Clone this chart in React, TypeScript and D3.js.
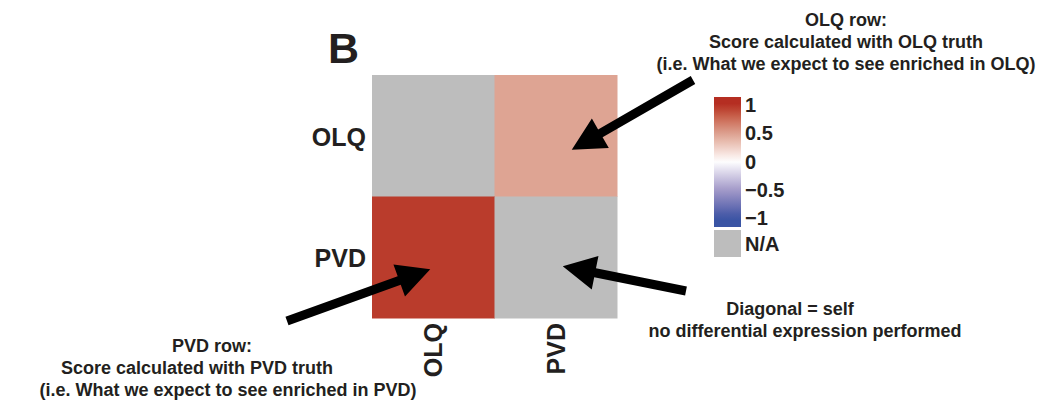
import React from 'react';
import * as d3 from 'd3';

// heatmap data (rows = truth used, cols = compared cell type); null = diagonal / N/A
const rowNames = ['OLQ', 'PVD'];
const colNames = ['OLQ', 'PVD'];
const scores: (number | null)[][] = [
  [null, 0.48],
  [0.95, null],
];

const legendTicks = [1, 0.5, 0, -0.5, -1];
const colorStops = [-1, -0.5, 0, 0.5, 1];
const colorValues = ['#3A54A4', '#A39AC9', '#FFFFFF', '#DCA08F', '#B52E22'];

const topNote = ['OLQ row:', 'Score calculated with OLQ truth', '(i.e. What we expect to see enriched in OLQ)'];
const diagNote = ['Diagonal = self', 'no differential expression performed'];
const pvdNote = ['PVD row:', 'Score calculated with PVD truth', '(i.e. What we expect to see enriched in PVD)'];

const TEXT = '#231F20';
const NA_GRAY = '#BDBDBD';
const FONT = 'Liberation Sans, Arial, Helvetica, sans-serif';

const arrowPath = (tail: [number, number], tip: [number, number]) => {
  const shaft = 4.5, headLen = 33, headHalf = 17;
  const dx = tip[0] - tail[0], dy = tip[1] - tail[1];
  const len = Math.hypot(dx, dy);
  const ux = dx / len, uy = dy / len;
  const nx = -uy, ny = ux;
  const bx = tip[0] - ux * headLen, by = tip[1] - uy * headLen;
  const pts = [
    [tail[0] + nx * shaft, tail[1] + ny * shaft],
    [bx + nx * shaft, by + ny * shaft],
    [bx + nx * headHalf, by + ny * headHalf],
    tip,
    [bx - nx * headHalf, by - ny * headHalf],
    [bx - nx * shaft, by - ny * shaft],
    [tail[0] - nx * shaft, tail[1] - ny * shaft],
  ];
  return 'M' + pts.map(p => `${p[0]},${p[1]}`).join('L') + 'Z';
};

const App = () => {
  const width = 1048;
  const height = 404;

  const x = d3.scaleBand<string>().domain(colNames).range([372, 617]);
  const y = d3.scaleBand<string>().domain(rowNames).range([75, 318]);

  const color = d3.scaleLinear<string>()
    .domain(colorStops)
    .range(colorValues)
    .interpolate(d3.interpolateLab);

  const legendY = d3.scaleLinear().domain([-1, 1]).range([218, 105]);
  const barX = 714, barW = 27;
  const barTop = 97, barBottom = 227;
  const gradStops = d3.range(0, 1.0001, 0.05);

  const cx = (c: string) => (x(c) ?? 0) + x.bandwidth() / 2;
  const cy = (r: string) => (y(r) ?? 0) + y.bandwidth() / 2;

  // arrows pointing at cells: tail position, tip offset from cell centre
  const arrows = [
    { tail: [693, 80] as [number, number], tip: [cx('PVD') + 16, cy('OLQ') + 14] as [number, number] },
    { tail: [287, 321] as [number, number], tip: [cx('OLQ') - 3, cy('PVD') + 12] as [number, number] },
    { tail: [686, 291] as [number, number], tip: [cx('PVD') + 7, cy('PVD') + 9] as [number, number] },
  ];

  return (
    <svg width={width} height={height} style={{ position: 'absolute', left: 0, top: 0 }}
      fontFamily={FONT} fontWeight="bold" fill={TEXT}>
      <defs>
        <linearGradient id="legend-grad" x1="0" y1="0" x2="0" y2="1">
          {gradStops.map(t => (
            <stop key={t} offset={`${t * 100}%`}
              stopColor={color(Math.max(-1, Math.min(1, legendY.invert(barTop + t * (barBottom - barTop)))))} />
          ))}
        </linearGradient>
      </defs>

      <text x={328} y={63} fontSize={43}>B</text>

      {rowNames.map((r, i) => colNames.map((c, j) => {
        const v = scores[i][j];
        return (
          <rect key={`${r}-${c}`} x={x(c)} y={y(r)} width={x.bandwidth() + 0.5} height={y.bandwidth() + 0.5}
            fill={v == null ? NA_GRAY : color(v)} />
        );
      }))}

      {rowNames.map(r => (
        <text key={r} x={366} y={cy(r) + 10} fontSize={25} textAnchor="end">{r}</text>
      ))}
      {colNames.map(c => (
        <text key={c} transform={`translate(${cx(c) + 9},323) rotate(-90)`} fontSize={25} textAnchor="end">{c}</text>
      ))}

      <rect x={barX} y={barTop} width={barW} height={barBottom - barTop} fill="url(#legend-grad)" />
      {legendTicks.map(t => (
        <text key={t} x={745} y={legendY(t) + 7} fontSize={20}>
          {t < 0 ? `\u2212${Math.abs(t)}` : t}
        </text>
      ))}
      <rect x={barX} y={230} width={barW} height={27} fill={NA_GRAY} />
      <text x={745} y={251} fontSize={20}>N/A</text>

      {arrows.map((a, i) => (
        <path key={i} d={arrowPath(a.tail, a.tip)} fill="#000" />
      ))}

      {topNote.map((s, i) => (
        <text key={s} x={846} y={26 + i * 22} fontSize={18} textAnchor="middle">{s}</text>
      ))}
      {diagNote.map((s, i) => (
        <text key={s} x={[790, 805][i]} y={315 + i * 22} fontSize={18} textAnchor="middle">{s}</text>
      ))}
      {pvdNote.map((s, i) => (
        <text key={s} x={[212, 197, 228][i]} y={352 + i * 22} fontSize={18} textAnchor="middle">{s}</text>
      ))}
    </svg>
  );
};

export default App;
